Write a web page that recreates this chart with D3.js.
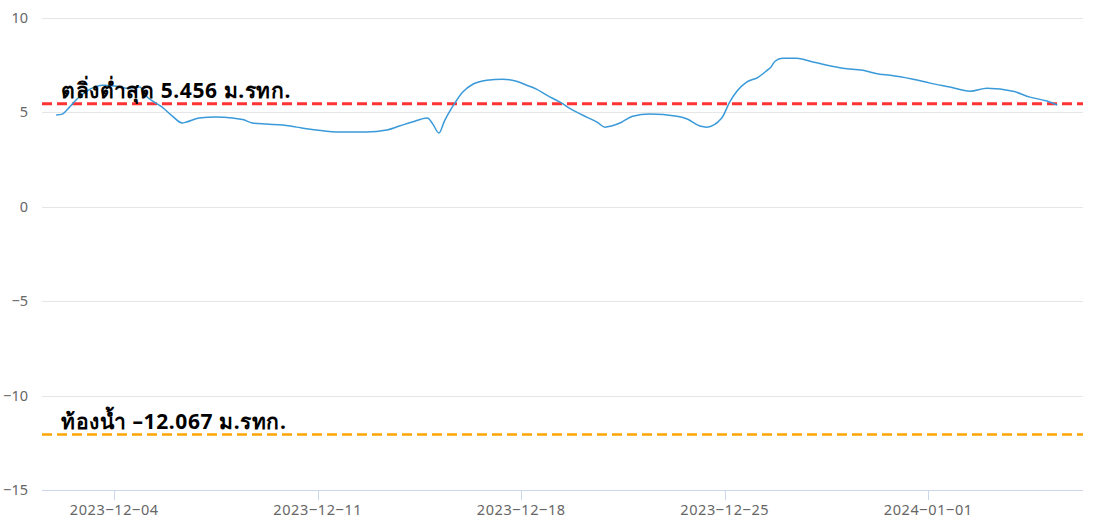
<!DOCTYPE html>
<html><head><meta charset="utf-8">
<script src="https://cdn.jsdelivr.net/npm/d3@7"></script>
<style>
html,body{margin:0;padding:0;background:#fff;}
svg{display:block;}
</style></head>
<body><svg id="c" width="1094" height="526"></svg>
<script>
const times = ["2023-12-02T00:00","2023-12-02T05:00","2023-12-02T11:00","2023-12-02T17:00","2023-12-03T01:00","2023-12-03T07:30","2023-12-03T14:00","2023-12-04T02:00","2023-12-04T10:00","2023-12-04T21:00","2023-12-05T02:30","2023-12-05T09:00","2023-12-05T15:30","2023-12-06T00:00","2023-12-06T08:00","2023-12-06T11:30","2023-12-06T22:00","2023-12-07T12:00","2023-12-08T01:30","2023-12-08T10:00","2023-12-08T18:00","2023-12-09T05:30","2023-12-09T19:00","2023-12-10T06:30","2023-12-10T23:00","2023-12-11T18:00","2023-12-12T16:00","2023-12-13T09:00","2023-12-13T19:30","2023-12-14T06:00","2023-12-14T18:30","2023-12-14T23:00","2023-12-15T04:00","2023-12-15T08:30","2023-12-15T15:30","2023-12-15T23:30","2023-12-16T08:00","2023-12-16T19:30","2023-12-17T08:30","2023-12-17T20:00","2023-12-18T04:30","2023-12-18T12:30","2023-12-18T21:00","2023-12-19T08:00","2023-12-19T18:30","2023-12-20T06:00","2023-12-20T14:30","2023-12-20T21:00","2023-12-21T02:30","2023-12-21T09:30","2023-12-21T20:00","2023-12-22T10:00","2023-12-23T08:30","2023-12-23T17:00","2023-12-24T03:30","2023-12-24T09:00","2023-12-24T21:30","2023-12-25T04:00","2023-12-25T10:00","2023-12-25T18:00","2023-12-26T03:30","2023-12-26T11:00","2023-12-26T14:00","2023-12-26T17:30","2023-12-26T23:30","2023-12-27T11:30","2023-12-27T22:30","2023-12-28T12:30","2023-12-29T01:30","2023-12-29T18:00","2023-12-30T08:00","2023-12-30T16:30","2023-12-31T11:30","2024-01-01T01:30","2024-01-01T18:00","2024-01-02T10:30","2024-01-03T00:30","2024-01-03T22:00","2024-01-04T12:00","2024-01-05T02:00","2024-01-05T10:30"];
const levels = [4.86,4.91,5.28,5.70,6.12,6.34,6.44,6.39,6.28,6.34,5.86,5.54,5.28,4.80,4.44,4.49,4.70,4.75,4.70,4.62,4.44,4.38,4.33,4.22,4.07,3.96,3.96,4.07,4.28,4.49,4.70,4.38,3.91,4.54,5.33,6.07,6.49,6.70,6.76,6.65,6.44,6.23,5.91,5.54,5.12,4.75,4.49,4.22,4.28,4.44,4.80,4.91,4.80,4.65,4.28,4.22,4.70,5.54,6.12,6.60,6.86,7.23,7.39,7.71,7.87,7.87,7.71,7.50,7.34,7.23,7.02,6.97,6.76,6.55,6.34,6.12,6.28,6.12,5.81,5.60,5.39];
const yTicks = [-15,-10,-5,0,5,10];
const xTickLabels = ["2023-12-04","2023-12-11","2023-12-18","2023-12-25","2024-01-01"];
const plotLineValues = [5.456, -12.067];
const plotLineLabels = ["ตลิ่งต่ำสุด 5.456 ม.รทก.", "ท้องน้ำ –12.067 ม.รทก."];
const plotLineColors = ["#ff3333", "#ffa500"];
const xDomain = ["2023-12-01T12:18", "2024-01-06T07:45"];

const parse = d3.timeParse("%Y-%m-%dT%H:%M");
const parseDay = d3.timeParse("%Y-%m-%d");
const data = times.map((t,i)=>({t:parse(t), v:levels[i]}));

const svg = d3.select("#c");
const L=42, R=1083, T=18, B=490;
const x = d3.scaleTime().domain(xDomain.map(parse)).range([L,R]);
const y = d3.scaleLinear().domain([-15,10]).range([B,T]);
const font = "'Noto Sans', 'DejaVu Sans', sans-serif";

// grid
svg.append("g").selectAll("line").data(yTicks).join("line")
  .attr("x1",L).attr("x2",R).attr("y1",d=>Math.round(y(d))+0.5).attr("y2",d=>Math.round(y(d))+0.5)
  .attr("stroke",d=>d===-15?"#ccd6eb":"#e6e6e6").attr("stroke-width",1);

// y labels
svg.append("g").selectAll("text").data(yTicks).join("text")
  .attr("x",28).attr("y",d=>y(d)+5).attr("text-anchor","end")
  .attr("fill","#666").attr("font-family",font).attr("font-size",14.5)
  .text(d=>d<0?"−"+Math.abs(d):d);

// x axis
const xTicks = xTickLabels.map(parseDay);
const xg = svg.append("g");
xg.selectAll("line").data(xTicks).join("line")
  .attr("x1",d=>Math.round(x(d))+0.5).attr("x2",d=>Math.round(x(d))+0.5)
  .attr("y1",B).attr("y2",B+10).attr("stroke","#ccd6eb");
xg.selectAll("text").data(xTicks).join("text")
  .attr("x",d=>x(d)).attr("y",B+25).attr("text-anchor","middle")
  .attr("fill","#666").attr("font-family",font).attr("font-size",14.5)
  .attr("letter-spacing","0.6")
  .text((d,i)=>xTickLabels[i].replace(/-/g,"‒"));

// plot lines
plotLineValues.forEach((v,i)=>{
  svg.append("line").attr("x1",L).attr("x2",R).attr("y1",y(v)).attr("y2",y(v))
    .attr("stroke",plotLineColors[i]).attr("stroke-width",i===0?3:2.5)
    .attr("stroke-dasharray","10,5");
});

// series
svg.append("path").datum(data)
  .attr("fill","none").attr("stroke","#3a9ad9").attr("stroke-width",1.5)
  .attr("d", d3.line().x(d=>x(d.t)).y(d=>y(d.v)).curve(d3.curveMonotoneX));

// plot line labels
plotLineValues.forEach((v,i)=>{
  svg.append("text").attr("x",61).attr("y",y(v)-6)
    .attr("font-family","'Tahoma','Noto Sans', sans-serif").attr("font-weight","bold")
    .attr("font-size",21).attr("letter-spacing","0.6").attr("fill","#000").text(plotLineLabels[i]);
});
</script></body></html>
